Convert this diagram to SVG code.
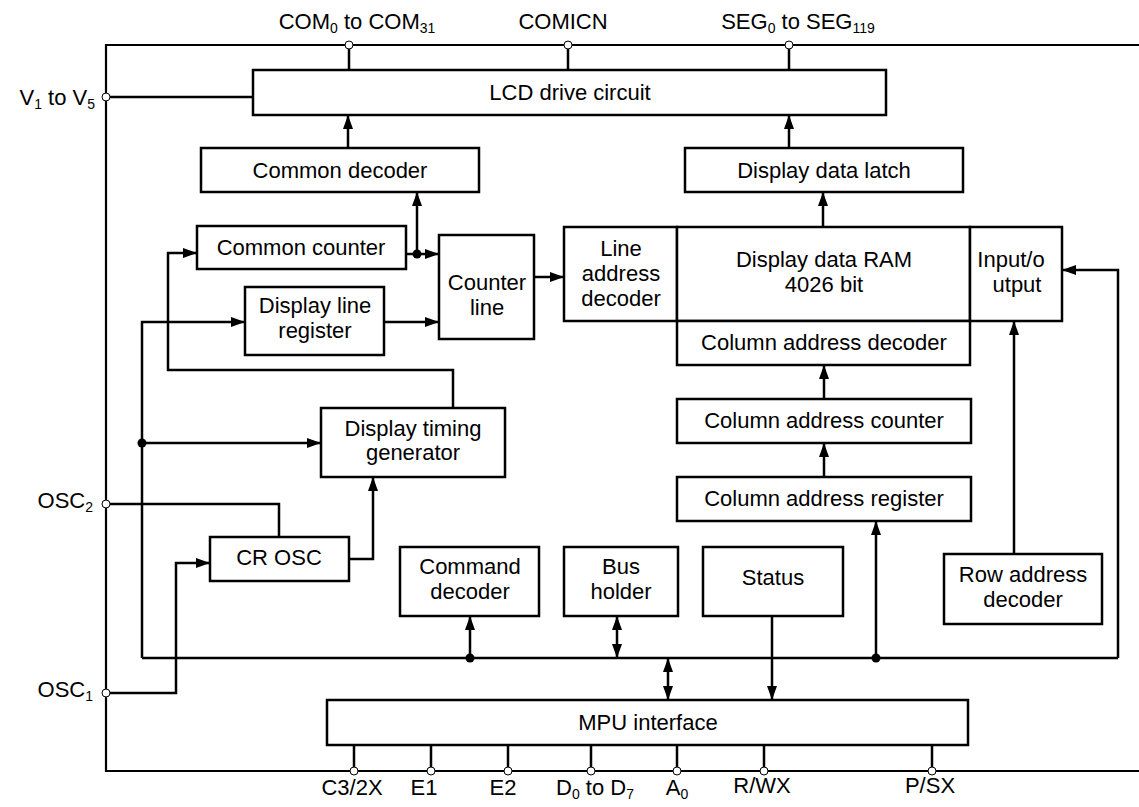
<svg xmlns="http://www.w3.org/2000/svg" width="1139" height="807" viewBox="0 0 1139 807">
<defs>
<marker id="ah" viewBox="0 0 14 10" refX="14" refY="5" markerWidth="14" markerHeight="10" markerUnits="userSpaceOnUse" orient="auto-start-reverse">
<path d="M0,0 L14,5 L0,10 z" fill="#000"/>
</marker>
<style>
.b{fill:#fff;stroke:#000;stroke-width:2.5}
.t{font-family:"Liberation Sans",Arial,sans-serif;font-size:22px;fill:#000;text-anchor:middle}
.l{font-family:"Liberation Sans",Arial,sans-serif;font-size:22px;fill:#000}
.s{font-size:14px}
.w{fill:none;stroke:#000;stroke-width:2.5}
.f{fill:none;stroke:#000;stroke-width:2.2}
.pin{fill:#fff;stroke:#000;stroke-width:1}
.dot{fill:#000}
</style>
</defs>
<rect width="1139" height="807" fill="#fff"/>
<g id="frame">
<path class="f" d="M1139,45 H106 V771 H1139"/>
</g>
<g id="connectors">
<path class="w" d="M349,45 V70 M568,45 V70 M789,45 V70 M106,97 H253"/>
<path class="w" d="M354,745 V771 M431,745 V771 M508,745 V771 M591,745 V771 M677,745 V771 M764,745 V771 M932,745 V771"/>
<path class="w" marker-end="url(#ah)" d="M348,148 V115"/>
<path class="w" marker-end="url(#ah)" d="M789,148 V115"/>
<path class="w" marker-end="url(#ah)" d="M823,227 V192"/>
<path class="w" marker-end="url(#ah)" d="M417,254 V192"/>
<path class="w" marker-end="url(#ah)" d="M406,254 H439"/>
<path class="w" marker-end="url(#ah)" d="M384,322 H439"/>
<path class="w" marker-end="url(#ah)" d="M534,277 H564"/>
<path class="w" marker-end="url(#ah)" d="M142,658 V322 H245"/>
<path class="w" marker-end="url(#ah)" d="M453,408 V370 H168 V253 H197"/>
<path class="w" marker-end="url(#ah)" d="M142,443 H321"/>
<path class="w" d="M106,504 H279 V537"/>
<path class="w" marker-end="url(#ah)" d="M106,693 H176 V563 H210"/>
<path class="w" marker-end="url(#ah)" d="M349,559 H373 V477"/>
<path class="w" d="M142,658 H1118"/>
<path class="w" marker-end="url(#ah)" d="M1118,658 V270 H1062"/>
<path class="w" marker-end="url(#ah)" d="M1014,554 V321"/>
<path class="w" marker-end="url(#ah)" d="M824,399 V365"/>
<path class="w" marker-end="url(#ah)" d="M824,477 V443"/>
<path class="w" marker-end="url(#ah)" d="M876,658 V521"/>
<path class="w" marker-end="url(#ah)" d="M470,658 V616"/>
<path class="w" marker-start="url(#ah)" marker-end="url(#ah)" d="M617,658 V616"/>
<path class="w" marker-start="url(#ah)" marker-end="url(#ah)" d="M668,658 V700"/>
<path class="w" marker-end="url(#ah)" d="M772,616 V700"/>
<circle class="dot" cx="417" cy="254" r="4.5"/>
<circle class="dot" cx="142" cy="443" r="4.5"/>
<circle class="dot" cx="470" cy="658" r="4.5"/>
<circle class="dot" cx="876" cy="658" r="4.5"/>
</g>
<g id="pins">
<circle class="pin" cx="349" cy="45" r="4"/>
<circle class="pin" cx="568" cy="45" r="4"/>
<circle class="pin" cx="789" cy="45" r="4"/>
<circle class="pin" cx="106" cy="97" r="4"/>
<circle class="pin" cx="106" cy="504" r="4"/>
<circle class="pin" cx="106" cy="693" r="4"/>
<circle class="pin" cx="354" cy="771" r="4"/>
<circle class="pin" cx="431" cy="771" r="4"/>
<circle class="pin" cx="508" cy="771" r="4"/>
<circle class="pin" cx="591" cy="771" r="4"/>
<circle class="pin" cx="677" cy="771" r="4"/>
<circle class="pin" cx="764" cy="771" r="4"/>
<circle class="pin" cx="932" cy="771" r="4"/>
</g>
<g id="labels">
<text class="t" x="357" y="29">COM<tspan class="s" dy="4">0</tspan><tspan dy="-4"> to COM</tspan><tspan class="s" dy="4">31</tspan></text>
<text class="t" x="563" y="29">COMICN</text>
<text class="t" x="798" y="29">SEG<tspan class="s" dy="4">0</tspan><tspan dy="-4"> to SEG</tspan><tspan class="s" dy="4">119</tspan></text>
<text class="l" x="95" y="105" text-anchor="end">V<tspan class="s" dy="4">1</tspan><tspan dy="-4"> to V</tspan><tspan class="s" dy="4">5</tspan></text>
<text class="l" x="93" y="508" text-anchor="end">OSC<tspan class="s" dy="4">2</tspan></text>
<text class="l" x="93" y="697" text-anchor="end">OSC<tspan class="s" dy="4">1</tspan></text>
<text class="t" x="352" y="795">C3/2X</text>
<text class="t" x="424" y="795">E1</text>
<text class="t" x="503" y="795">E2</text>
<text class="t" x="595" y="795">D<tspan class="s" dy="4">0</tspan><tspan dy="-4"> to D</tspan><tspan class="s" dy="4">7</tspan></text>
<text class="t" x="677" y="795">A<tspan class="s" dy="4">0</tspan></text>
<text class="t" x="762" y="793">R/WX</text>
<text class="t" x="930" y="793">P/SX</text>
</g>
<g id="lcd"><rect class="b" x="253" y="70" width="633" height="45"/><text class="t" x="570" y="100">LCD drive circuit</text></g>
<g id="common-decoder"><rect class="b" x="201" y="148" width="278" height="44"/><text class="t" x="340" y="178">Common decoder</text></g>
<g id="display-data-latch"><rect class="b" x="685" y="148" width="278" height="44"/><text class="t" x="824" y="178">Display data latch</text></g>
<g id="common-counter"><rect class="b" x="197" y="226" width="209" height="43"/><text class="t" x="301" y="255">Common counter</text></g>
<g id="display-line-register"><rect class="b" x="245" y="287" width="139" height="68"/><text class="t" x="315" y="313">Display line</text><text class="t" x="315" y="338">register</text></g>
<g id="counter-line"><rect class="b" x="439" y="235" width="95" height="104"/><text class="t" x="487" y="290">Counter</text><text class="t" x="487" y="315">line</text></g>
<g id="line-address-decoder"><rect class="b" x="564" y="227" width="113" height="94"/><text class="t" x="621" y="256">Line</text><text class="t" x="621" y="281">address</text><text class="t" x="621" y="306">decoder</text></g>
<g id="display-data-ram"><rect class="b" x="677" y="227" width="293" height="94"/><text class="t" x="824" y="267">Display data RAM</text><text class="t" x="824" y="292">4026 bit</text></g>
<g id="input-output"><rect class="b" x="970" y="227" width="92" height="94"/><text class="t" x="1011" y="267">Input/o</text><text class="t" x="1017" y="292">utput</text></g>
<g id="column-address-decoder"><rect class="b" x="677" y="321" width="293" height="44"/><text class="t" x="824" y="350">Column address decoder</text></g>
<g id="column-address-counter"><rect class="b" x="677" y="399" width="294" height="44"/><text class="t" x="824" y="428">Column address counter</text></g>
<g id="column-address-register"><rect class="b" x="677" y="477" width="294" height="44"/><text class="t" x="824" y="506">Column address register</text></g>
<g id="display-timing-generator"><rect class="b" x="321" y="408" width="184" height="69"/><text class="t" x="413" y="436">Display timing</text><text class="t" x="413" y="460">generator</text></g>
<g id="cr-osc"><rect class="b" x="210" y="537" width="139" height="44"/><text class="t" x="279" y="565">CR OSC</text></g>
<g id="command-decoder"><rect class="b" x="400" y="547" width="139" height="69"/><text class="t" x="470" y="574">Command</text><text class="t" x="470" y="599">decoder</text></g>
<g id="bus-holder"><rect class="b" x="564" y="547" width="114" height="69"/><text class="t" x="621" y="574">Bus</text><text class="t" x="621" y="599">holder</text></g>
<g id="status"><rect class="b" x="703" y="547" width="140" height="69"/><text class="t" x="773" y="585">Status</text></g>
<g id="row-address-decoder"><rect class="b" x="944" y="554" width="158" height="70"/><text class="t" x="1023" y="582">Row address</text><text class="t" x="1023" y="607">decoder</text></g>
<g id="mpu-interface"><rect class="b" x="327" y="700" width="641" height="45"/><text class="t" x="648" y="730">MPU interface</text></g>
</svg>
